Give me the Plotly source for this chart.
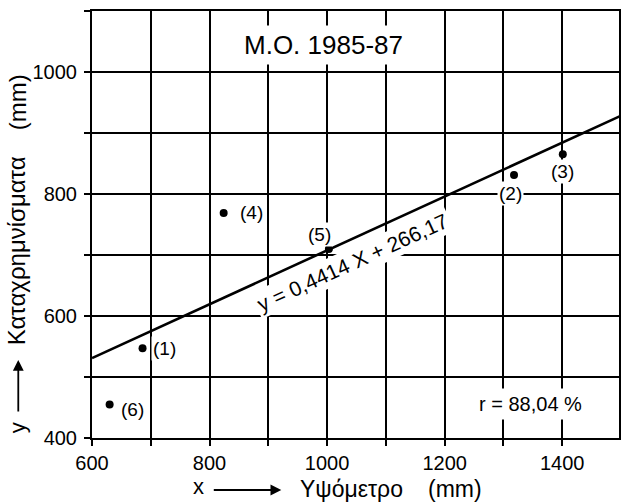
import plotly.graph_objects as go

# ---- data ----
station_labels = ["(1)", "(2)", "(3)", "(4)", "(5)", "(6)"]
altitude_mm = [686, 1318, 1401, 824, 1003, 630]
precip_mm = [547, 831, 865, 769, 710, 455]
slope = 0.4414
intercept = 266.17
line_x = [600, 1500]
x_tick_values = [600, 700, 800, 900, 1000, 1100, 1200, 1300, 1400, 1500]
x_tick_labels = ["600", "", "800", "", "1000", "", "1200", "", "1400", ""]
y_tick_values = [400, 500, 600, 700, 800, 900, 1000, 1100]
y_tick_labels = ["400", "", "600", "", "800", "", "1000", ""]
title_text = "M.O. 1985-87"
equation_text = "y = 0,4414 X + 266,17"
r_text = "r = 88,04 %"

# ---- geometry (pixels) ----
FW, FH = 621, 502
L, R, T, B = 92, 0, 11, 64
PW = FW - L - R
PH = FH - T - B
X0, X1 = 600, 600 + PW / 0.59
FONT = "Liberation Sans, Arial, sans-serif"


def pxx(xp):
    return (xp - L) / PW


def pyy(yp):
    return (FH - B - yp) / PH


line_y = [slope * v + intercept for v in line_x]

fig = go.Figure()
fig.add_trace(go.Scatter(x=line_x, y=line_y, mode="lines",
                         line=dict(color="black", width=2.6), hoverinfo="skip"))
fig.add_trace(go.Scatter(x=altitude_mm, y=precip_mm, mode="markers",
                         marker=dict(color="black", size=8), hoverinfo="skip"))

annotations = []
C = dict(xanchor="center", yanchor="middle", showarrow=False)
# point labels (pixel offsets are style)
offsets = [(22, 0), (-4, -18), (0, -17), (28, 0), (-9, 14), (23, -5)]
for lab, xv, yv, (dx, dy) in zip(station_labels, altitude_mm, precip_mm, offsets):
    annotations.append(dict(x=xv, y=yv, xref="x", yref="y", text=lab,
                            xshift=dx, yshift=dy, font=dict(size=19, color="black", family=FONT),
                            bgcolor="white", borderpad=1, **C))

# title in box
annotations.append(dict(x=pxx(324), y=pyy(45), xref="paper", yref="paper", text=title_text,
                        font=dict(size=26, color="black", family=FONT),
                        bgcolor="white", borderpad=4, **C))
# equation
eq_x = 600 + (353 - L) / 0.59
eq_y = 400 + (FH - B - 262) / 0.61
annotations.append(dict(x=eq_x, y=eq_y, xref="x", yref="y", text=equation_text, textangle=-24.5,
                        font=dict(size=21, color="black", family=FONT),
                        bgcolor="white", borderpad=2, **C))
# r value
annotations.append(dict(x=pxx(532), y=pyy(404), xref="paper", yref="paper", text=r_text,
                        font=dict(size=20, color="black", family=FONT),
                        bgcolor="white", borderpad=4, **C))

# x axis title pieces
XT = 489
annotations.append(dict(x=pxx(199), y=pyy(XT - 2), xref="paper", yref="paper", text="x",
                        font=dict(size=22, color="black", family=FONT), **C))
annotations.append(dict(x=pxx(282), y=pyy(XT + 1), xref="paper", yref="paper", text="",
                        showarrow=True, ax=-69, ay=0, arrowhead=2, arrowsize=1.2,
                        arrowwidth=1.8, arrowcolor="black"))
annotations.append(dict(x=pxx(352), y=pyy(XT), xref="paper", yref="paper", text="Υψόμετρο",
                        font=dict(size=23, color="black", family=FONT), **C))
annotations.append(dict(x=pxx(456), y=pyy(XT), xref="paper", yref="paper", text="(mm)",
                        font=dict(size=23, color="black", family=FONT), **C))

# y axis title pieces
annotations.append(dict(x=pxx(17), y=pyy(428), xref="paper", yref="paper", text="y",
                        textangle=-90, font=dict(size=22, color="black", family=FONT), **C))
annotations.append(dict(x=pxx(18), y=pyy(360), xref="paper", yref="paper", text="",
                        showarrow=True, ax=0, ay=53, arrowhead=2, arrowsize=1.2,
                        arrowwidth=1.8, arrowcolor="black"))
annotations.append(dict(x=pxx(17), y=pyy(251), xref="paper", yref="paper", text="Καταχρημνίσματα",
                        textangle=-90, font=dict(size=24, color="black", family=FONT), **C))
annotations.append(dict(x=pxx(17), y=pyy(102), xref="paper", yref="paper", text="(mm)",
                        textangle=-90, font=dict(size=24, color="black", family=FONT), **C))

axis_common = dict(showgrid=True, gridcolor="black", gridwidth=2, zeroline=False,
                   showline=True, linecolor="black", linewidth=2, mirror=True,
                   ticks="outside", ticklen=6, tickwidth=2, tickcolor="black",
                   tickfont=dict(size=20, color="black", family=FONT))

fig.update_layout(
    width=FW, height=FH,
    margin=dict(l=L, r=R, t=T, b=B),
    paper_bgcolor="white", plot_bgcolor="white",
    showlegend=False,
    annotations=annotations,
    xaxis=dict(range=[X0, X1], tickmode="array", tickvals=x_tick_values,
               ticktext=x_tick_labels, ticklabelstandoff=0, **axis_common),
    yaxis=dict(range=[400, 1100], tickmode="array", tickvals=y_tick_values,
               ticktext=y_tick_labels, ticklabelstandoff=3, **axis_common),
)

fig.write_html("out.html")
